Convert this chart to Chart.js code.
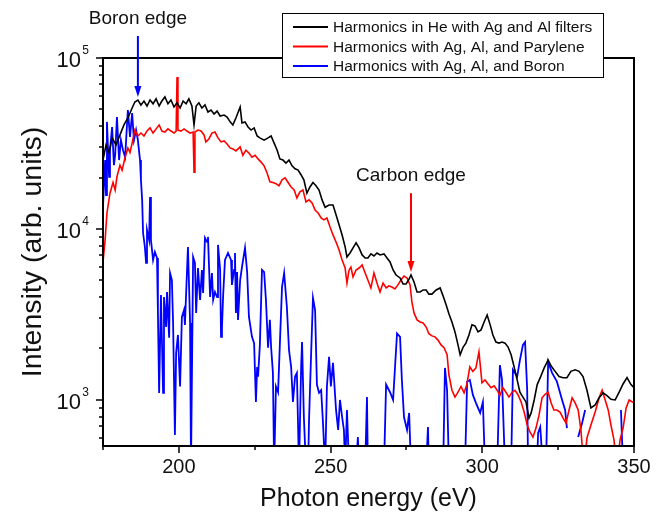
<html>
<head>
<script src="https://cdn.jsdelivr.net/npm/chart.js@4.4.0/dist/chart.umd.min.js"></script>
<style>
body { margin: 0; background: #fff; }
canvas { display: block; }
</style>
</head>
<body>
<canvas id="myChart" width="657" height="515"></canvas>
<script>

// photon energy (eV) / intensity (arb. units) for each filter set
var heE = [175,176,177,178,179.3,180.6,181.9,183.2,184.6,185.5,186.5,187.5,188.5,189.5,190.5,191.5,192.5,193.5,194.4,195.4,196.4,197.4,198.4,199.4,200.4,201.4,202.4,203.3,204.3,205,205.7,206.6,207.6,208.6,209.6,210.6,211.6,212.6,213.6,214.9,215.9,216.9,217.8,218.8,220.2,220.8,221.8,222.8,223.8,224.8,225.8,226.7,228.1,229.4,230.4,231.4,232.4,233.3,234.3,235.3,236.3,237.3,238.3,239.3,240.3,241.2,242.2,243.2,244.2,245.2,246.2,247.2,248.2,249.5,250.8,251.8,252.8,253.8,254.8,255.4,256.4,257.4,258.4,259.4,260.4,261.4,262.3,263.3,264.3,265.3,266.3,267.6,268.6,269.6,270.6,271.6,272.9,273.9,274.9,275.9,276.5,277.5,278.5,279.5,280.5,281.5,282.4,283.4,284.8,286.1,287.1,288.1,289,290,291,292,292.7,293.7,294.6,295.6,296.6,297.6,298.6,299.6,300.6,301.6,302.6,303.5,304.5,305.5,306.5,307.5,308.5,309.5,310.5,311.5,312.4,313.4,314.4,315.4,316.1,317.1,318.1,319.1,320.4,321.7,322.7,324,325.3,326.6,327.9,329.2,330.6,331.9,333.2,334.5,335.8,337.2,338.5,339.8,341.1,342.4,343.8,345.1,346.4,347.7,349,350];
var heI = [25300,31000,28000,34100,31000,35500,40600,44600,51000,55300,56800,53100,56000,52400,56800,54000,57700,52400,56000,59200,54000,56800,51700,54700,51000,56000,54000,57700,52400,40600,52400,54700,51000,53100,48300,49600,47000,48900,45800,46400,45200,42300,40600,44600,51700,41700,42300,39500,37900,39000,35000,34100,33100,34100,35000,31800,28900,25700,25300,24300,25300,23400,22500,22100,20700,19400,16200,17600,18700,17900,16900,14800,13400,13800,13800,12100,10600,9230,7850,6860,7240,7750,8290,7750,7050,6770,6770,7150,6950,7240,7050,7150,6770,6420,5760,5380,5170,4770,4770,5100,5380,4900,4280,4280,4400,4400,4160,4160,4400,4520,4050,3590,3190,2860,2500,2100,1840,2040,2150,2400,2750,2710,2500,2570,2860,3140,2750,2400,2180,2150,2180,2150,2040,1840,1560,1310,1110,1040,974,785,840,1000,1230,1350,1540,1710,1580,1470,1370,1350,1350,1470,1500,1470,1370,1140,899,936,1030,1100,1060,1010,1000,1110,1240,1350,1230,1180];

var paryE = [175,175.7,176.3,177.3,178.3,179,179.6,180.6,181.3,182.3,183.2,183.9,184.6,185.5,186.5,187.5,188.5,189.5,190.5,191.5,192.5,193.5,194.4,195.4,196.4,197.4,198.4,199.1,199.4,199.7,200.7,201.7,202.7,203.7,204.7,205,205.3,206.3,207.3,208.3,208.9,209.9,210.9,211.9,212.9,213.9,214.9,215.9,216.9,217.8,218.8,220.2,221.1,222.1,223.1,224.1,225.1,226.1,227.1,228.1,229.1,230,231,232,233,234,235,236,237,238,238.9,239.9,240.9,241.9,242.9,243.9,244.9,245.9,246.9,247.8,248.8,249.8,250.8,251.8,252.8,253.8,254.8,255.4,256.1,256.7,257.4,258.4,259.4,260.4,261.4,262.3,263.3,264.3,265.3,266.3,267.3,268.3,269.2,270.2,271.2,272.2,273.2,274.2,275.2,276.2,276.8,277.5,278.5,279.5,280.5,281.5,282.4,283.4,284.4,285.4,286.4,287.4,288.4,289,290,291,292,293,294,294.9,295.9,296.9,297.9,298.9,299.9,300.9,301.9,302.9,303.9,304.9,305.8,306.8,307.8,308.8,309.8,310.8,311.8,312.8,313.8,314.8,315.7,316.7,317.7,318.7,319.7,320.7,321.7,322.7,323.6,324.6,325.6,326.6,327.6,328.6,329.6,330.6,331.6,332.5,333.5,334.5,335.8,337.2,338.5,339.5,340.5,341.5,342.4,343.4,344.4,345.4,346.4,347.4,348.4,350];
var paryI = [6420,8630,12400,16200,18700,16900,20200,23600,22100,26300,29800,28000,31800,37900,35000,36400,35000,37400,39000,36400,38500,40600,37400,36900,38500,37400,36400,37400,77400,37900,37400,38500,37400,36400,36900,21500,36900,37900,37400,35500,32300,33600,36400,36900,34100,32300,32700,31400,29800,29400,28600,30200,27000,28900,27800,26300,27000,25700,24600,23400,21200,18900,18700,18400,17900,19400,19900,18700,17600,16900,15200,16500,16900,14400,14800,14200,12900,12400,11600,11300,11600,10300,9230,8400,7540,6590,5910,4830,5760,5990,5240,5760,5910,6160,5530,5030,4520,5530,4830,4280,4830,4520,4640,4580,4460,4710,5030,5310,5170,4710,3750,3230,2940,2860,2820,2670,2440,2370,2340,2240,2100,2020,1840,1400,1140,1040,1110,1200,1100,1230,1560,1470,1540,1910,1260,1310,1240,1180,1210,1140,1060,1180,1110,1040,1110,1140,1070,974,850,714,650,607,685,815,1030,1080,1110,961,874,874,850,785,733,874,1030,961,874,668,400,600,714,850,1030,1140,1000,874,714,584,400,584,685,899,1000,961];

// null marks the channels with no usable signal (gaps in the trace)
var boronE = [175,175.7,176,176.3,177,177.3,178,178.6,179,179.6,180.3,180.9,181.6,182.3,182.9,183.2,183.9,184.6,185.2,185.9,186.5,187.2,187.5,187.9,188.2,188.8,189.2,189.5,190.2,190.5,190.8,191.5,192.1,192.8,193.1,193.5,194.1,194.8,195.1,195.8,196.1,196.8,197.1,197.7,198.1,198.7,199.1,199.7,200.4,201,201.7,202,202.4,203,203.7,204,204.7,205.3,205.7,206.3,207,207.6,208,208.6,209.3,209.6,210.3,210.9,211.3,211.9,212.6,212.9,213.6,213.9,214.2,214.6,215.2,216.2,217.2,217.5,218.2,218.5,218.8,219.2,219.5,220.2,220.8,221.8,222.5,223.1,224.1,224.8,225.4,225.8,226.1,226.7,227.4,228.1,228.7,229.4,230,230.4,231,231.4,232,232.7,233.3,234,234.7,235.6,236.3,237,237.6,238.3,238.9,239.6,240.3,240.6,241.2,241.9,242.6,242.9,243.6,244.2,244.9,245.5,246.2,246.9,247.5,248.2,248.8,249.5,250.1,250.8,251.8,252.5,253.1,253.8,254.4,254.8,255.4,256.1,258.4,259,259.4,261.4,262,262.3,267.6,268.3,269.6,270.6,271.9,272.9,273.5,274.2,275.2,275.9,276.5,281.5,282.1,282.4,287.1,287.7,288.4,289,294.3,295,295.9,296.9,297.9,299.3,300.2,300.9,304.9,305.8,306.5,307.5,309.5,310.1,311.5,312.4,313.4,314.1,314.8,315.1,318,318.4,319.1,320,321,321.7,323,324.6,326.3,327.3,327.9,329.5,331.6,332.9,333.9,340,345.7,346.4];
var boronI = [13600,25300,15800,42300,20200,28900,39500,23600,27000,45200,25300,33100,28900,26300,40600,49600,34500,47700,33100,37900,33100,25300,19400,14800,9500,7850,6330,9870,8630,15400,8630,6590,7340,6770,3230,1100,4110,1100,4000,2670,4280,2310,5530,5030,2820,624,1890,2400,1200,3060,3360,2750,4220,7850,2820,400,6860,6330,3230,5910,3850,5760,4220,8870,8400,8990,4000,5530,3850,4280,4000,8070,5760,2340,2640,4110,6590,7240,6590,4710,5760,7240,3230,5600,2940,5030,5990,7750,5600,3060,2340,2150,974,1560,1370,2100,5760,5600,3850,2020,2940,2040,1440,400,1200,1110,2150,4580,5530,3500,1960,1560,974,1370,1440,400,1560,2180,795,400,400,764,1890,3950,3360,1230,1100,1140,733,400,1200,1790,1200,1650,874,668,1000,795,668,400,874,400,400,607,400,400,1040,400,400,1230,1110,1000,2450,2340,1310,795,668,840,400,400,694,400,400,1540,1140,400,400,1280,1310,1070,961,840,974,400,400,1600,1310,400,400,1500,1370,1710,2100,2180,1140,400,400,642,694,400,400,1670,1440,1280,1000,874,685,null,607,733,874,null,874,400];

var seriesNames = ["Harmonics in He with Ag and Al filters", "Harmonics with Ag, Al, and Parylene", "Harmonics with Ag, Al, and Boron"];
var seriesColors = ["#000000", "#ff0000", "#0000ff"];

var xTicks = [175, 200, 225, 250, 275, 300, 325, 350];
var xLabels = [200, 250, 300, 350];
var yDecades = [3, 4, 5];

// edge markers: [label, energy, arrow tail intensity, arrow tip intensity]
var edges = [
  ["Boron edge", 186.5, 134500, 59100, "#0000ff"],
  ["Carbon edge", 276.5, 16200, 5610, "#ff0000"]
];

var FONT = 'Arial, "Liberation Sans", sans-serif';

function pts(E, I) {
  return E.map((x, i) => ({x: x, y: I[i]}));
}

var decor = {
  id: 'decor',
  afterDatasetsDraw(chart) {
    var ctx = chart.ctx, a = chart.chartArea;
    var xs = chart.scales.x, ys = chart.scales.y;
    ctx.save();
    ctx.strokeStyle = '#000';
    ctx.fillStyle = '#000';

    // frame
    ctx.lineWidth = 2;
    ctx.strokeRect(a.left, a.top, a.right - a.left, a.bottom - a.top);

    // x ticks (outward)
    ctx.lineWidth = 1.5;
    xTicks.forEach(v => {
      var px = Math.round(xs.getPixelForValue(v));
      var len = (v % 50 === 0) ? 7 : 4;
      ctx.beginPath();
      ctx.moveTo(px, a.bottom);
      ctx.lineTo(px, a.bottom + len);
      ctx.stroke();
    });

    // y ticks, decades and minors
    for (var d = 2; d <= 5; d++) {
      for (var m = 1; m <= 9; m++) {
        var v = m * Math.pow(10, d);
        if (v < ys.min || v > ys.max) continue;
        var py = Math.round(ys.getPixelForValue(v));
        ctx.beginPath();
        ctx.moveTo(a.left, py);
        ctx.lineTo(a.left - (m === 1 ? 7 : 4), py);
        ctx.stroke();
      }
    }

    // x tick labels
    ctx.font = '20px ' + FONT;
    ctx.fillStyle = '#111';
    ctx.textAlign = 'center';
    ctx.textBaseline = 'alphabetic';
    xLabels.forEach(v => {
      ctx.fillText(String(v), xs.getPixelForValue(v), a.bottom + 27);
    });

    // y tick labels as 10^n
    yDecades.forEach(n => {
      var py = ys.getPixelForValue(Math.pow(10, n));
      ctx.textAlign = 'right';
      ctx.font = '12px ' + FONT;
      ctx.fillText(String(n), 89, py - 4);
      ctx.font = '22px ' + FONT;
      ctx.fillText('10', 81, py + 9);
    });

    // axis titles
    ctx.font = '25px ' + FONT;
    ctx.textAlign = 'center';
    ctx.fillText('Photon energy (eV)', (a.left + a.right) / 2, 506);
    ctx.save();
    ctx.translate(41, (a.top + a.bottom) / 2);
    ctx.rotate(-Math.PI / 2);
    ctx.font = '28.5px ' + FONT;
    ctx.fillText('Intensity (arb. units)', 0, 0);
    ctx.restore();

    // edge arrows
    edges.forEach(e => {
      var px = xs.getPixelForValue(e[1]);
      var y0 = ys.getPixelForValue(e[2]);
      var y1 = ys.getPixelForValue(e[3]);
      ctx.strokeStyle = e[4];
      ctx.fillStyle = e[4];
      ctx.lineWidth = 2;
      ctx.beginPath();
      ctx.moveTo(px, y0);
      ctx.lineTo(px, y1 - 10);
      ctx.stroke();
      ctx.beginPath();
      ctx.moveTo(px - 3.5, y1 - 11);
      ctx.lineTo(px + 3.5, y1 - 11);
      ctx.lineTo(px, y1);
      ctx.closePath();
      ctx.fill();
      ctx.fillStyle = '#111';
      ctx.font = '19px ' + FONT;
      ctx.textAlign = 'center';
      ctx.fillText(e[0], px, y0 - 12);
    });

    // legend box
    var lx = 282, ly = 13, lw = 321, lh = 64;
    ctx.fillStyle = '#fff';
    ctx.fillRect(lx, ly, lw, lh);
    ctx.strokeStyle = '#000';
    ctx.lineWidth = 1;
    ctx.strokeRect(lx + 0.5, ly + 0.5, lw, lh);
    ctx.font = '15.5px ' + FONT;
    ctx.textAlign = 'left';
    ctx.textBaseline = 'middle';
    chart.data.datasets.forEach((ds, i) => {
      var yy = ly + 14 + i * 19.5;
      ctx.strokeStyle = ds.borderColor;
      ctx.lineWidth = 2;
      ctx.beginPath();
      ctx.moveTo(293, yy);
      ctx.lineTo(328, yy);
      ctx.stroke();
      ctx.fillStyle = '#111';
      ctx.fillText(ds.label, 333, yy + 1);
    });
    ctx.restore();
  }
};

var ctx = document.getElementById('myChart').getContext('2d');
var myChart = new Chart(ctx, {
  type: 'line',
  data: {
    datasets: [
      {label: seriesNames[0], data: pts(heE, heI), borderColor: seriesColors[0], borderWidth: 1.6},
      {label: seriesNames[1], data: pts(paryE, paryI), borderColor: seriesColors[1], borderWidth: 1.6},
      {label: seriesNames[2], data: pts(boronE, boronI), borderColor: seriesColors[2], borderWidth: 1.8}
    ]
  },
  options: {
    responsive: false,
    animation: false,
    devicePixelRatio: 1,
    spanGaps: false,
    elements: {point: {radius: 0}, line: {tension: 0}},
    layout: {padding: {left: 103, right: 23, top: 58, bottom: 69}},
    scales: {
      x: {type: 'linear', min: 175, max: 350, display: false},
      y: {type: 'logarithmic', min: 538, max: 100000, display: false}
    },
    plugins: {legend: {display: false}, tooltip: {enabled: false}}
  },
  plugins: [decor]
});
</script>
</body>
</html>
